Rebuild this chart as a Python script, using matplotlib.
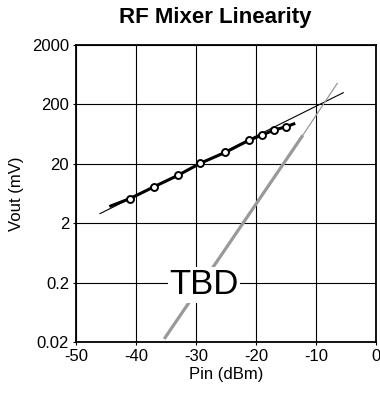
import matplotlib.pyplot as plt

plt.rcParams['font.family'] = ['Liberation Sans', 'DejaVu Sans']
plt.rcParams['axes.unicode_minus'] = False

# measured points (Pin in dBm, Vout in mV)
pinData = [-41, -37, -33, -29.3, -25.1, -21.2, -19, -17, -15]
voutData = [5.2, 8.2, 12.8, 20.4, 31.2, 49.7, 61, 74, 84]

# thick trace through the data, a bit longer at both ends
pinTrace = [-44.2, -41, -37, -33, -29.3, -25.1, -21.2, -19, -17, -15, -13.7]
voutTrace = [3.9, 5.2, 8.2, 12.8, 20.4, 31.2, 49.7, 61, 74, 84, 94]

# 1:1 fundamental extrapolation
pinFund = [-46, -5.45]
voutFund = [2.9, 315]

# 3:1 third-order line: thick part, then thin extrapolation
pinIm3 = [-35.3, -12.2]
voutIm3 = [0.0225, 60.4]
pinIm3Ext = [-12.2, -6.45]
voutIm3Ext = [60.4, 453]

xTicks = [-50, -40, -30, -20, -10, 0]
yTicks = [0.02, 0.2, 2, 20, 200, 2000]
yTickLabels = ['0.02', '0.2', '2', '20', '200', '2000']

fig = plt.figure(figsize=(3.8, 3.96), dpi=100)
ax = fig.add_axes([76 / 380, 54 / 396, 300 / 380, 297 / 396])

ax.plot(pinFund, voutFund, color='black', lw=0.8, zorder=3)
ax.plot(pinIm3, voutIm3, color='#999999', lw=2.3, solid_capstyle='butt', zorder=3)
ax.plot(pinIm3Ext, voutIm3Ext, color='#999999', lw=0.9, zorder=3)
ax.plot(pinTrace, voutTrace, color='black', lw=2.2, zorder=4)
ax.plot(pinData, voutData, 'o', mfc='white', mec='black', mew=1.4, ms=5, zorder=5)

ax.text(-28.7, 0.128, 'TBD', fontsize=25, ha='center', va='baseline', zorder=6,
        bbox=dict(facecolor='white', edgecolor='none', pad=1))

ax.set_yscale('log')
ax.set_xlim(-50, 0)
ax.set_ylim(0.02, 2000)
ax.set_xticks(xTicks)
ax.set_yticks(yTicks)
ax.set_yticklabels(yTickLabels)
ax.minorticks_off()
ax.tick_params(length=2, labelsize=12, pad=3, colors='black')
ax.grid(True, color='black', lw=0.8)
for s in ax.spines.values():
    s.set_linewidth(1.3)

ax.set_xlabel('Pin (dBm)', fontsize=12, labelpad=2)
ax.set_ylabel('Vout (mV)', fontsize=12, labelpad=6)

fig.text(215 / 380, 1 - 18 / 396, 'RF Mixer Linearity', fontsize=16,
         fontweight='bold', ha='center', va='center')

fig.savefig('out.png', dpi=100)
